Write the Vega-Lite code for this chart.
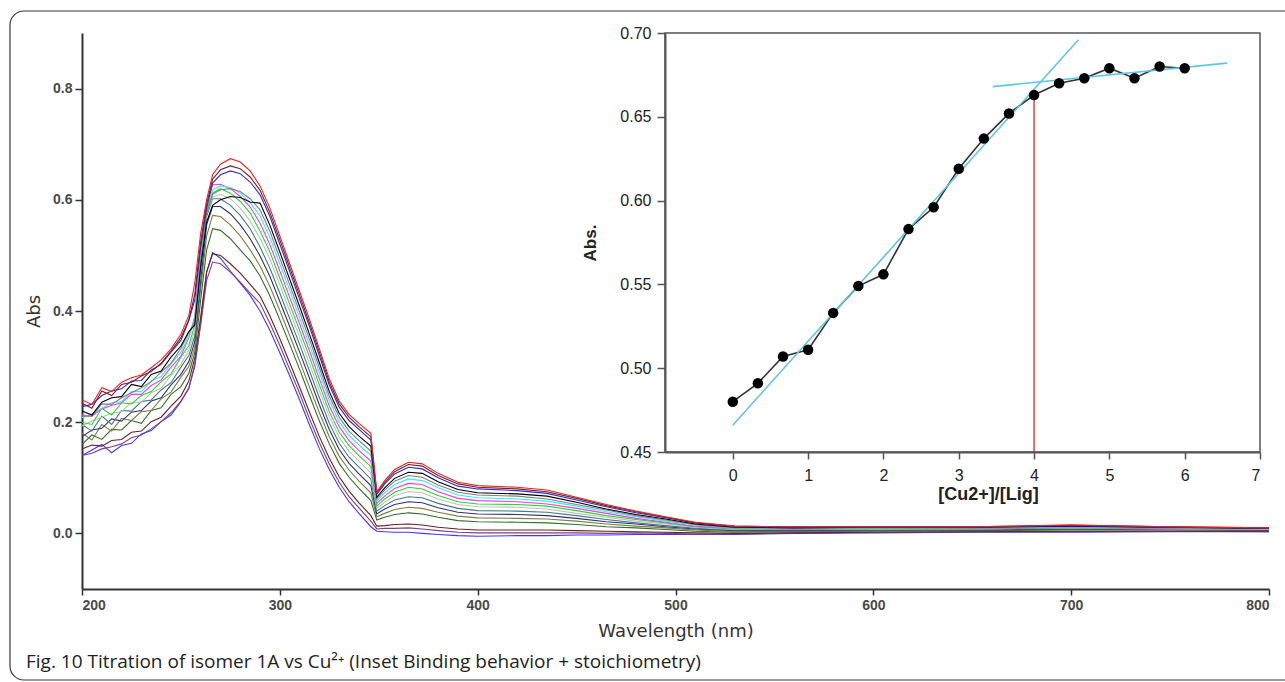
{
"$schema":"https://vega.github.io/schema/vega-lite/v6.json",
"width":1187,"height":556,
"autosize":"none",
"padding":{"left":82,"top":33,"right":16,"bottom":93},
"background":"white",
"config":{"view":{"stroke":null},"axis":{"grid":false}},
"title":{"text":"Fig. 10  Titration of isomer 1A vs Cu²⁺ (Inset Binding behavior + stoichiometry)","orient":"bottom","anchor":"start","frame":"group","dx":-56,"offset":-13,"baseline":"alphabetic","font":"Open Sans","fontSize":19,"fontWeight":"normal","color":"#231f20"},
"datasets":{
"spectra":[
{"s":0,"w":200,"a":0.140},{"s":0,"w":205,"a":0.150},{"s":0,"w":210,"a":0.160},{"s":0,"w":215,"a":0.145},{"s":0,"w":220,"a":0.158},{"s":0,"w":225,"a":0.162},{"s":0,"w":230,"a":0.179},{"s":0,"w":235,"a":0.185},{"s":0,"w":240,"a":0.201},{"s":0,"w":245,"a":0.213},{"s":0,"w":250,"a":0.237},{"s":0,"w":254,"a":0.262},{"s":0,"w":257,"a":0.300},{"s":0,"w":260,"a":0.380},{"s":0,"w":263,"a":0.470},{"s":0,"w":266,"a":0.505},{"s":0,"w":270,"a":0.495},{"s":0,"w":275,"a":0.472},{"s":0,"w":280,"a":0.450},{"s":0,"w":285,"a":0.428},{"s":0,"w":290,"a":0.400},{"s":0,"w":295,"a":0.365},{"s":0,"w":300,"a":0.325},{"s":0,"w":305,"a":0.283},{"s":0,"w":310,"a":0.240},{"s":0,"w":315,"a":0.195},{"s":0,"w":320,"a":0.152},{"s":0,"w":325,"a":0.115},{"s":0,"w":330,"a":0.083},{"s":0,"w":335,"a":0.057},{"s":0,"w":340,"a":0.036},{"s":0,"w":346,"a":0.012},{"s":0,"w":349,"a":0.004},{"s":0,"w":353,"a":0.003},{"s":0,"w":358,"a":0.002},{"s":0,"w":365,"a":0.002},{"s":0,"w":372,"a":0.000},{"s":0,"w":380,"a":-0.002},{"s":0,"w":390,"a":-0.004},{"s":0,"w":400,"a":-0.005},{"s":0,"w":420,"a":-0.004},{"s":0,"w":435,"a":-0.004},{"s":0,"w":450,"a":-0.003},{"s":0,"w":465,"a":-0.003},{"s":0,"w":480,"a":-0.002},{"s":0,"w":495,"a":-0.002},{"s":0,"w":510,"a":-0.002},{"s":0,"w":530,"a":-0.002},{"s":0,"w":560,"a":0.000},{"s":0,"w":600,"a":0.001},{"s":0,"w":650,"a":0.002},{"s":0,"w":700,"a":0.002},{"s":0,"w":750,"a":0.003},{"s":0,"w":800,"a":0.003},
{"s":1,"w":200,"a":0.140},{"s":1,"w":205,"a":0.144},{"s":1,"w":210,"a":0.152},{"s":1,"w":215,"a":0.156},{"s":1,"w":220,"a":0.161},{"s":1,"w":225,"a":0.172},{"s":1,"w":230,"a":0.177},{"s":1,"w":235,"a":0.188},{"s":1,"w":240,"a":0.201},{"s":1,"w":245,"a":0.217},{"s":1,"w":250,"a":0.238},{"s":1,"w":254,"a":0.260},{"s":1,"w":257,"a":0.305},{"s":1,"w":260,"a":0.375},{"s":1,"w":263,"a":0.455},{"s":1,"w":266,"a":0.488},{"s":1,"w":270,"a":0.485},{"s":1,"w":275,"a":0.470},{"s":1,"w":280,"a":0.452},{"s":1,"w":285,"a":0.432},{"s":1,"w":290,"a":0.414},{"s":1,"w":295,"a":0.378},{"s":1,"w":300,"a":0.338},{"s":1,"w":305,"a":0.295},{"s":1,"w":310,"a":0.252},{"s":1,"w":315,"a":0.206},{"s":1,"w":320,"a":0.163},{"s":1,"w":325,"a":0.125},{"s":1,"w":330,"a":0.092},{"s":1,"w":335,"a":0.066},{"s":1,"w":340,"a":0.046},{"s":1,"w":346,"a":0.022},{"s":1,"w":349,"a":0.008},{"s":1,"w":353,"a":0.009},{"s":1,"w":358,"a":0.009},{"s":1,"w":365,"a":0.010},{"s":1,"w":372,"a":0.008},{"s":1,"w":380,"a":0.005},{"s":1,"w":390,"a":0.002},{"s":1,"w":400,"a":0.001},{"s":1,"w":420,"a":0.001},{"s":1,"w":435,"a":0.001},{"s":1,"w":450,"a":0.001},{"s":1,"w":465,"a":0.000},{"s":1,"w":480,"a":0.001},{"s":1,"w":495,"a":0.000},{"s":1,"w":510,"a":-0.001},{"s":1,"w":530,"a":-0.001},{"s":1,"w":560,"a":0.001},{"s":1,"w":600,"a":0.002},{"s":1,"w":650,"a":0.003},{"s":1,"w":700,"a":0.003},{"s":1,"w":750,"a":0.004},{"s":1,"w":800,"a":0.003},
{"s":2,"w":200,"a":0.152},{"s":2,"w":205,"a":0.159},{"s":2,"w":210,"a":0.157},{"s":2,"w":215,"a":0.167},{"s":2,"w":220,"a":0.169},{"s":2,"w":225,"a":0.182},{"s":2,"w":230,"a":0.184},{"s":2,"w":235,"a":0.201},{"s":2,"w":240,"a":0.209},{"s":2,"w":245,"a":0.229},{"s":2,"w":250,"a":0.247},{"s":2,"w":254,"a":0.274},{"s":2,"w":257,"a":0.315},{"s":2,"w":260,"a":0.390},{"s":2,"w":263,"a":0.470},{"s":2,"w":266,"a":0.503},{"s":2,"w":270,"a":0.500},{"s":2,"w":275,"a":0.485},{"s":2,"w":280,"a":0.468},{"s":2,"w":285,"a":0.448},{"s":2,"w":290,"a":0.427},{"s":2,"w":295,"a":0.391},{"s":2,"w":300,"a":0.350},{"s":2,"w":305,"a":0.307},{"s":2,"w":310,"a":0.263},{"s":2,"w":315,"a":0.218},{"s":2,"w":320,"a":0.174},{"s":2,"w":325,"a":0.135},{"s":2,"w":330,"a":0.102},{"s":2,"w":335,"a":0.076},{"s":2,"w":340,"a":0.055},{"s":2,"w":346,"a":0.032},{"s":2,"w":349,"a":0.013},{"s":2,"w":353,"a":0.014},{"s":2,"w":358,"a":0.016},{"s":2,"w":365,"a":0.017},{"s":2,"w":372,"a":0.015},{"s":2,"w":380,"a":0.011},{"s":2,"w":390,"a":0.008},{"s":2,"w":400,"a":0.006},{"s":2,"w":420,"a":0.006},{"s":2,"w":435,"a":0.006},{"s":2,"w":450,"a":0.005},{"s":2,"w":465,"a":0.004},{"s":2,"w":480,"a":0.003},{"s":2,"w":495,"a":0.002},{"s":2,"w":510,"a":0.001},{"s":2,"w":530,"a":0.000},{"s":2,"w":560,"a":0.001},{"s":2,"w":600,"a":0.002},{"s":2,"w":650,"a":0.003},{"s":2,"w":700,"a":0.004},{"s":2,"w":750,"a":0.004},{"s":2,"w":800,"a":0.004},
{"s":3,"w":200,"a":0.160},{"s":3,"w":205,"a":0.177},{"s":3,"w":210,"a":0.169},{"s":3,"w":215,"a":0.187},{"s":3,"w":220,"a":0.186},{"s":3,"w":225,"a":0.203},{"s":3,"w":230,"a":0.198},{"s":3,"w":235,"a":0.221},{"s":3,"w":240,"a":0.226},{"s":3,"w":245,"a":0.250},{"s":3,"w":250,"a":0.264},{"s":3,"w":254,"a":0.288},{"s":3,"w":257,"a":0.325},{"s":3,"w":260,"a":0.420},{"s":3,"w":263,"a":0.510},{"s":3,"w":266,"a":0.548},{"s":3,"w":270,"a":0.545},{"s":3,"w":275,"a":0.530},{"s":3,"w":280,"a":0.510},{"s":3,"w":285,"a":0.490},{"s":3,"w":290,"a":0.463},{"s":3,"w":295,"a":0.427},{"s":3,"w":300,"a":0.384},{"s":3,"w":305,"a":0.340},{"s":3,"w":310,"a":0.295},{"s":3,"w":315,"a":0.248},{"s":3,"w":320,"a":0.202},{"s":3,"w":325,"a":0.161},{"s":3,"w":330,"a":0.126},{"s":3,"w":335,"a":0.101},{"s":3,"w":340,"a":0.081},{"s":3,"w":346,"a":0.059},{"s":3,"w":349,"a":0.024},{"s":3,"w":353,"a":0.029},{"s":3,"w":358,"a":0.034},{"s":3,"w":365,"a":0.037},{"s":3,"w":372,"a":0.035},{"s":3,"w":380,"a":0.029},{"s":3,"w":390,"a":0.023},{"s":3,"w":400,"a":0.021},{"s":3,"w":420,"a":0.020},{"s":3,"w":435,"a":0.019},{"s":3,"w":450,"a":0.016},{"s":3,"w":465,"a":0.012},{"s":3,"w":480,"a":0.010},{"s":3,"w":495,"a":0.007},{"s":3,"w":510,"a":0.004},{"s":3,"w":530,"a":0.002},{"s":3,"w":560,"a":0.003},{"s":3,"w":600,"a":0.004},{"s":3,"w":650,"a":0.005},{"s":3,"w":700,"a":0.006},{"s":3,"w":750,"a":0.006},{"s":3,"w":800,"a":0.005},
{"s":4,"w":200,"a":0.180},{"s":4,"w":205,"a":0.168},{"s":4,"w":210,"a":0.196},{"s":4,"w":215,"a":0.184},{"s":4,"w":220,"a":0.207},{"s":4,"w":225,"a":0.203},{"s":4,"w":230,"a":0.219},{"s":4,"w":235,"a":0.221},{"s":4,"w":240,"a":0.242},{"s":4,"w":245,"a":0.254},{"s":4,"w":250,"a":0.281},{"s":4,"w":254,"a":0.300},{"s":4,"w":257,"a":0.335},{"s":4,"w":260,"a":0.440},{"s":4,"w":263,"a":0.535},{"s":4,"w":266,"a":0.572},{"s":4,"w":270,"a":0.570},{"s":4,"w":275,"a":0.555},{"s":4,"w":280,"a":0.535},{"s":4,"w":285,"a":0.510},{"s":4,"w":290,"a":0.481},{"s":4,"w":295,"a":0.444},{"s":4,"w":300,"a":0.401},{"s":4,"w":305,"a":0.356},{"s":4,"w":310,"a":0.310},{"s":4,"w":315,"a":0.263},{"s":4,"w":320,"a":0.217},{"s":4,"w":325,"a":0.174},{"s":4,"w":330,"a":0.139},{"s":4,"w":335,"a":0.114},{"s":4,"w":340,"a":0.094},{"s":4,"w":346,"a":0.073},{"s":4,"w":349,"a":0.030},{"s":4,"w":353,"a":0.036},{"s":4,"w":358,"a":0.043},{"s":4,"w":365,"a":0.047},{"s":4,"w":372,"a":0.045},{"s":4,"w":380,"a":0.038},{"s":4,"w":390,"a":0.031},{"s":4,"w":400,"a":0.028},{"s":4,"w":420,"a":0.027},{"s":4,"w":435,"a":0.026},{"s":4,"w":450,"a":0.022},{"s":4,"w":465,"a":0.017},{"s":4,"w":480,"a":0.013},{"s":4,"w":495,"a":0.010},{"s":4,"w":510,"a":0.006},{"s":4,"w":530,"a":0.003},{"s":4,"w":560,"a":0.004},{"s":4,"w":600,"a":0.005},{"s":4,"w":650,"a":0.006},{"s":4,"w":700,"a":0.007},{"s":4,"w":750,"a":0.006},{"s":4,"w":800,"a":0.006},
{"s":5,"w":200,"a":0.174},{"s":5,"w":205,"a":0.186},{"s":5,"w":210,"a":0.189},{"s":5,"w":215,"a":0.206},{"s":5,"w":220,"a":0.202},{"s":5,"w":225,"a":0.218},{"s":5,"w":230,"a":0.221},{"s":5,"w":235,"a":0.238},{"s":5,"w":240,"a":0.244},{"s":5,"w":245,"a":0.267},{"s":5,"w":250,"a":0.286},{"s":5,"w":254,"a":0.309},{"s":5,"w":257,"a":0.345},{"s":5,"w":260,"a":0.455},{"s":5,"w":263,"a":0.555},{"s":5,"w":266,"a":0.588},{"s":5,"w":270,"a":0.588},{"s":5,"w":275,"a":0.575},{"s":5,"w":280,"a":0.555},{"s":5,"w":285,"a":0.530},{"s":5,"w":290,"a":0.499},{"s":5,"w":295,"a":0.462},{"s":5,"w":300,"a":0.417},{"s":5,"w":305,"a":0.372},{"s":5,"w":310,"a":0.326},{"s":5,"w":315,"a":0.279},{"s":5,"w":320,"a":0.231},{"s":5,"w":325,"a":0.187},{"s":5,"w":330,"a":0.151},{"s":5,"w":335,"a":0.126},{"s":5,"w":340,"a":0.107},{"s":5,"w":346,"a":0.086},{"s":5,"w":349,"a":0.035},{"s":5,"w":353,"a":0.044},{"s":5,"w":358,"a":0.052},{"s":5,"w":365,"a":0.057},{"s":5,"w":372,"a":0.055},{"s":5,"w":380,"a":0.046},{"s":5,"w":390,"a":0.038},{"s":5,"w":400,"a":0.035},{"s":5,"w":420,"a":0.034},{"s":5,"w":435,"a":0.032},{"s":5,"w":450,"a":0.027},{"s":5,"w":465,"a":0.021},{"s":5,"w":480,"a":0.017},{"s":5,"w":495,"a":0.012},{"s":5,"w":510,"a":0.008},{"s":5,"w":530,"a":0.005},{"s":5,"w":560,"a":0.005},{"s":5,"w":600,"a":0.006},{"s":5,"w":650,"a":0.006},{"s":5,"w":700,"a":0.008},{"s":5,"w":750,"a":0.007},{"s":5,"w":800,"a":0.006},
{"s":6,"w":200,"a":0.196},{"s":6,"w":205,"a":0.184},{"s":6,"w":210,"a":0.211},{"s":6,"w":215,"a":0.196},{"s":6,"w":220,"a":0.221},{"s":6,"w":225,"a":0.220},{"s":6,"w":230,"a":0.237},{"s":6,"w":235,"a":0.240},{"s":6,"w":240,"a":0.258},{"s":6,"w":245,"a":0.271},{"s":6,"w":250,"a":0.299},{"s":6,"w":254,"a":0.320},{"s":6,"w":257,"a":0.355},{"s":6,"w":260,"a":0.470},{"s":6,"w":263,"a":0.570},{"s":6,"w":266,"a":0.602},{"s":6,"w":270,"a":0.602},{"s":6,"w":275,"a":0.590},{"s":6,"w":280,"a":0.572},{"s":6,"w":285,"a":0.548},{"s":6,"w":290,"a":0.515},{"s":6,"w":295,"a":0.477},{"s":6,"w":300,"a":0.432},{"s":6,"w":305,"a":0.386},{"s":6,"w":310,"a":0.340},{"s":6,"w":315,"a":0.292},{"s":6,"w":320,"a":0.244},{"s":6,"w":325,"a":0.198},{"s":6,"w":330,"a":0.162},{"s":6,"w":335,"a":0.137},{"s":6,"w":340,"a":0.119},{"s":6,"w":346,"a":0.098},{"s":6,"w":349,"a":0.040},{"s":6,"w":353,"a":0.050},{"s":6,"w":358,"a":0.060},{"s":6,"w":365,"a":0.066},{"s":6,"w":372,"a":0.064},{"s":6,"w":380,"a":0.054},{"s":6,"w":390,"a":0.045},{"s":6,"w":400,"a":0.041},{"s":6,"w":420,"a":0.040},{"s":6,"w":435,"a":0.038},{"s":6,"w":450,"a":0.032},{"s":6,"w":465,"a":0.025},{"s":6,"w":480,"a":0.019},{"s":6,"w":495,"a":0.014},{"s":6,"w":510,"a":0.009},{"s":6,"w":530,"a":0.006},{"s":6,"w":560,"a":0.006},{"s":6,"w":600,"a":0.007},{"s":6,"w":650,"a":0.007},{"s":6,"w":700,"a":0.009},{"s":6,"w":750,"a":0.008},{"s":6,"w":800,"a":0.007},
{"s":7,"w":200,"a":0.193},{"s":7,"w":205,"a":0.202},{"s":7,"w":210,"a":0.209},{"s":7,"w":215,"a":0.216},{"s":7,"w":220,"a":0.219},{"s":7,"w":225,"a":0.236},{"s":7,"w":230,"a":0.236},{"s":7,"w":235,"a":0.253},{"s":7,"w":240,"a":0.261},{"s":7,"w":245,"a":0.284},{"s":7,"w":250,"a":0.304},{"s":7,"w":254,"a":0.330},{"s":7,"w":257,"a":0.365},{"s":7,"w":260,"a":0.480},{"s":7,"w":263,"a":0.575},{"s":7,"w":266,"a":0.605},{"s":7,"w":270,"a":0.610},{"s":7,"w":275,"a":0.602},{"s":7,"w":280,"a":0.585},{"s":7,"w":285,"a":0.562},{"s":7,"w":290,"a":0.531},{"s":7,"w":295,"a":0.493},{"s":7,"w":300,"a":0.447},{"s":7,"w":305,"a":0.400},{"s":7,"w":310,"a":0.353},{"s":7,"w":315,"a":0.305},{"s":7,"w":320,"a":0.256},{"s":7,"w":325,"a":0.210},{"s":7,"w":330,"a":0.173},{"s":7,"w":335,"a":0.148},{"s":7,"w":340,"a":0.130},{"s":7,"w":346,"a":0.109},{"s":7,"w":349,"a":0.045},{"s":7,"w":353,"a":0.056},{"s":7,"w":358,"a":0.068},{"s":7,"w":365,"a":0.075},{"s":7,"w":372,"a":0.073},{"s":7,"w":380,"a":0.062},{"s":7,"w":390,"a":0.052},{"s":7,"w":400,"a":0.048},{"s":7,"w":420,"a":0.047},{"s":7,"w":435,"a":0.044},{"s":7,"w":450,"a":0.036},{"s":7,"w":465,"a":0.029},{"s":7,"w":480,"a":0.022},{"s":7,"w":495,"a":0.017},{"s":7,"w":510,"a":0.011},{"s":7,"w":530,"a":0.007},{"s":7,"w":560,"a":0.007},{"s":7,"w":600,"a":0.007},{"s":7,"w":650,"a":0.008},{"s":7,"w":700,"a":0.010},{"s":7,"w":750,"a":0.008},{"s":7,"w":800,"a":0.007},
{"s":8,"w":200,"a":0.200},{"s":8,"w":205,"a":0.196},{"s":8,"w":210,"a":0.225},{"s":8,"w":215,"a":0.213},{"s":8,"w":220,"a":0.235},{"s":8,"w":225,"a":0.233},{"s":8,"w":230,"a":0.248},{"s":8,"w":235,"a":0.255},{"s":8,"w":240,"a":0.273},{"s":8,"w":245,"a":0.287},{"s":8,"w":250,"a":0.317},{"s":8,"w":254,"a":0.338},{"s":8,"w":257,"a":0.375},{"s":8,"w":260,"a":0.490},{"s":8,"w":263,"a":0.580},{"s":8,"w":266,"a":0.612},{"s":8,"w":270,"a":0.620},{"s":8,"w":275,"a":0.612},{"s":8,"w":280,"a":0.597},{"s":8,"w":285,"a":0.576},{"s":8,"w":290,"a":0.544},{"s":8,"w":295,"a":0.506},{"s":8,"w":300,"a":0.459},{"s":8,"w":305,"a":0.412},{"s":8,"w":310,"a":0.365},{"s":8,"w":315,"a":0.317},{"s":8,"w":320,"a":0.267},{"s":8,"w":325,"a":0.219},{"s":8,"w":330,"a":0.182},{"s":8,"w":335,"a":0.158},{"s":8,"w":340,"a":0.140},{"s":8,"w":346,"a":0.120},{"s":8,"w":349,"a":0.049},{"s":8,"w":353,"a":0.062},{"s":8,"w":358,"a":0.074},{"s":8,"w":365,"a":0.083},{"s":8,"w":372,"a":0.080},{"s":8,"w":380,"a":0.068},{"s":8,"w":390,"a":0.057},{"s":8,"w":400,"a":0.053},{"s":8,"w":420,"a":0.052},{"s":8,"w":435,"a":0.049},{"s":8,"w":450,"a":0.041},{"s":8,"w":465,"a":0.032},{"s":8,"w":480,"a":0.025},{"s":8,"w":495,"a":0.019},{"s":8,"w":510,"a":0.012},{"s":8,"w":530,"a":0.008},{"s":8,"w":560,"a":0.008},{"s":8,"w":600,"a":0.008},{"s":8,"w":650,"a":0.008},{"s":8,"w":700,"a":0.010},{"s":8,"w":750,"a":0.009},{"s":8,"w":800,"a":0.008},
{"s":9,"w":200,"a":0.213},{"s":9,"w":205,"a":0.211},{"s":9,"w":210,"a":0.224},{"s":9,"w":215,"a":0.230},{"s":9,"w":220,"a":0.235},{"s":9,"w":225,"a":0.250},{"s":9,"w":230,"a":0.250},{"s":9,"w":235,"a":0.266},{"s":9,"w":240,"a":0.276},{"s":9,"w":245,"a":0.299},{"s":9,"w":250,"a":0.319},{"s":9,"w":254,"a":0.352},{"s":9,"w":257,"a":0.390},{"s":9,"w":260,"a":0.510},{"s":9,"w":263,"a":0.595},{"s":9,"w":266,"a":0.627},{"s":9,"w":270,"a":0.628},{"s":9,"w":275,"a":0.620},{"s":9,"w":280,"a":0.606},{"s":9,"w":285,"a":0.587},{"s":9,"w":290,"a":0.558},{"s":9,"w":295,"a":0.519},{"s":9,"w":300,"a":0.472},{"s":9,"w":305,"a":0.424},{"s":9,"w":310,"a":0.377},{"s":9,"w":315,"a":0.328},{"s":9,"w":320,"a":0.278},{"s":9,"w":325,"a":0.229},{"s":9,"w":330,"a":0.192},{"s":9,"w":335,"a":0.167},{"s":9,"w":340,"a":0.149},{"s":9,"w":346,"a":0.130},{"s":9,"w":349,"a":0.054},{"s":9,"w":353,"a":0.067},{"s":9,"w":358,"a":0.081},{"s":9,"w":365,"a":0.090},{"s":9,"w":372,"a":0.088},{"s":9,"w":380,"a":0.075},{"s":9,"w":390,"a":0.063},{"s":9,"w":400,"a":0.059},{"s":9,"w":420,"a":0.057},{"s":9,"w":435,"a":0.053},{"s":9,"w":450,"a":0.045},{"s":9,"w":465,"a":0.036},{"s":9,"w":480,"a":0.027},{"s":9,"w":495,"a":0.020},{"s":9,"w":510,"a":0.013},{"s":9,"w":530,"a":0.009},{"s":9,"w":560,"a":0.008},{"s":9,"w":600,"a":0.009},{"s":9,"w":650,"a":0.009},{"s":9,"w":700,"a":0.011},{"s":9,"w":750,"a":0.009},{"s":9,"w":800,"a":0.008},
{"s":10,"w":200,"a":0.208},{"s":10,"w":205,"a":0.215},{"s":10,"w":210,"a":0.225},{"s":10,"w":215,"a":0.235},{"s":10,"w":220,"a":0.237},{"s":10,"w":225,"a":0.255},{"s":10,"w":230,"a":0.255},{"s":10,"w":235,"a":0.274},{"s":10,"w":240,"a":0.282},{"s":10,"w":245,"a":0.305},{"s":10,"w":250,"a":0.326},{"s":10,"w":254,"a":0.355},{"s":10,"w":257,"a":0.385},{"s":10,"w":260,"a":0.500},{"s":10,"w":263,"a":0.585},{"s":10,"w":266,"a":0.618},{"s":10,"w":270,"a":0.625},{"s":10,"w":275,"a":0.622},{"s":10,"w":280,"a":0.612},{"s":10,"w":285,"a":0.595},{"s":10,"w":290,"a":0.571},{"s":10,"w":295,"a":0.532},{"s":10,"w":300,"a":0.485},{"s":10,"w":305,"a":0.437},{"s":10,"w":310,"a":0.388},{"s":10,"w":315,"a":0.339},{"s":10,"w":320,"a":0.289},{"s":10,"w":325,"a":0.239},{"s":10,"w":330,"a":0.201},{"s":10,"w":335,"a":0.176},{"s":10,"w":340,"a":0.159},{"s":10,"w":346,"a":0.140},{"s":10,"w":349,"a":0.058},{"s":10,"w":353,"a":0.073},{"s":10,"w":358,"a":0.088},{"s":10,"w":365,"a":0.098},{"s":10,"w":372,"a":0.095},{"s":10,"w":380,"a":0.082},{"s":10,"w":390,"a":0.069},{"s":10,"w":400,"a":0.064},{"s":10,"w":420,"a":0.062},{"s":10,"w":435,"a":0.058},{"s":10,"w":450,"a":0.049},{"s":10,"w":465,"a":0.039},{"s":10,"w":480,"a":0.030},{"s":10,"w":495,"a":0.022},{"s":10,"w":510,"a":0.015},{"s":10,"w":530,"a":0.009},{"s":10,"w":560,"a":0.009},{"s":10,"w":600,"a":0.009},{"s":10,"w":650,"a":0.010},{"s":10,"w":700,"a":0.012},{"s":10,"w":750,"a":0.010},{"s":10,"w":800,"a":0.008},
{"s":11,"w":200,"a":0.211},{"s":11,"w":205,"a":0.211},{"s":11,"w":210,"a":0.233},{"s":11,"w":215,"a":0.232},{"s":11,"w":220,"a":0.244},{"s":11,"w":225,"a":0.253},{"s":11,"w":230,"a":0.262},{"s":11,"w":235,"a":0.273},{"s":11,"w":240,"a":0.290},{"s":11,"w":245,"a":0.306},{"s":11,"w":250,"a":0.333},{"s":11,"w":254,"a":0.361},{"s":11,"w":257,"a":0.380},{"s":11,"w":260,"a":0.490},{"s":11,"w":263,"a":0.575},{"s":11,"w":266,"a":0.610},{"s":11,"w":270,"a":0.618},{"s":11,"w":275,"a":0.620},{"s":11,"w":280,"a":0.615},{"s":11,"w":285,"a":0.602},{"s":11,"w":290,"a":0.582},{"s":11,"w":295,"a":0.543},{"s":11,"w":300,"a":0.495},{"s":11,"w":305,"a":0.447},{"s":11,"w":310,"a":0.398},{"s":11,"w":315,"a":0.349},{"s":11,"w":320,"a":0.298},{"s":11,"w":325,"a":0.247},{"s":11,"w":330,"a":0.209},{"s":11,"w":335,"a":0.184},{"s":11,"w":340,"a":0.167},{"s":11,"w":346,"a":0.148},{"s":11,"w":349,"a":0.062},{"s":11,"w":353,"a":0.078},{"s":11,"w":358,"a":0.094},{"s":11,"w":365,"a":0.104},{"s":11,"w":372,"a":0.101},{"s":11,"w":380,"a":0.087},{"s":11,"w":390,"a":0.074},{"s":11,"w":400,"a":0.069},{"s":11,"w":420,"a":0.067},{"s":11,"w":435,"a":0.062},{"s":11,"w":450,"a":0.052},{"s":11,"w":465,"a":0.042},{"s":11,"w":480,"a":0.032},{"s":11,"w":495,"a":0.024},{"s":11,"w":510,"a":0.016},{"s":11,"w":530,"a":0.010},{"s":11,"w":560,"a":0.010},{"s":11,"w":600,"a":0.010},{"s":11,"w":650,"a":0.010},{"s":11,"w":700,"a":0.013},{"s":11,"w":750,"a":0.010},{"s":11,"w":800,"a":0.009},
{"s":12,"w":200,"a":0.220},{"s":12,"w":205,"a":0.213},{"s":12,"w":210,"a":0.236},{"s":12,"w":215,"a":0.244},{"s":12,"w":220,"a":0.246},{"s":12,"w":225,"a":0.268},{"s":12,"w":230,"a":0.264},{"s":12,"w":235,"a":0.286},{"s":12,"w":240,"a":0.292},{"s":12,"w":245,"a":0.317},{"s":12,"w":250,"a":0.337},{"s":12,"w":254,"a":0.363},{"s":12,"w":257,"a":0.375},{"s":12,"w":260,"a":0.480},{"s":12,"w":263,"a":0.560},{"s":12,"w":266,"a":0.590},{"s":12,"w":270,"a":0.600},{"s":12,"w":275,"a":0.606},{"s":12,"w":280,"a":0.604},{"s":12,"w":285,"a":0.596},{"s":12,"w":290,"a":0.594},{"s":12,"w":295,"a":0.554},{"s":12,"w":300,"a":0.506},{"s":12,"w":305,"a":0.457},{"s":12,"w":310,"a":0.408},{"s":12,"w":315,"a":0.358},{"s":12,"w":320,"a":0.307},{"s":12,"w":325,"a":0.255},{"s":12,"w":330,"a":0.216},{"s":12,"w":335,"a":0.192},{"s":12,"w":340,"a":0.175},{"s":12,"w":346,"a":0.157},{"s":12,"w":349,"a":0.065},{"s":12,"w":353,"a":0.082},{"s":12,"w":358,"a":0.099},{"s":12,"w":365,"a":0.110},{"s":12,"w":372,"a":0.108},{"s":12,"w":380,"a":0.093},{"s":12,"w":390,"a":0.079},{"s":12,"w":400,"a":0.073},{"s":12,"w":420,"a":0.071},{"s":12,"w":435,"a":0.067},{"s":12,"w":450,"a":0.056},{"s":12,"w":465,"a":0.044},{"s":12,"w":480,"a":0.034},{"s":12,"w":495,"a":0.026},{"s":12,"w":510,"a":0.017},{"s":12,"w":530,"a":0.011},{"s":12,"w":560,"a":0.010},{"s":12,"w":600,"a":0.011},{"s":12,"w":650,"a":0.011},{"s":12,"w":700,"a":0.013},{"s":12,"w":750,"a":0.011},{"s":12,"w":800,"a":0.009},
{"s":13,"w":200,"a":0.228},{"s":13,"w":205,"a":0.232},{"s":13,"w":210,"a":0.248},{"s":13,"w":215,"a":0.256},{"s":13,"w":220,"a":0.260},{"s":13,"w":225,"a":0.274},{"s":13,"w":230,"a":0.275},{"s":13,"w":235,"a":0.294},{"s":13,"w":240,"a":0.304},{"s":13,"w":245,"a":0.326},{"s":13,"w":250,"a":0.347},{"s":13,"w":254,"a":0.383},{"s":13,"w":257,"a":0.420},{"s":13,"w":260,"a":0.515},{"s":13,"w":263,"a":0.585},{"s":13,"w":266,"a":0.630},{"s":13,"w":270,"a":0.645},{"s":13,"w":275,"a":0.652},{"s":13,"w":280,"a":0.647},{"s":13,"w":285,"a":0.632},{"s":13,"w":290,"a":0.609},{"s":13,"w":295,"a":0.570},{"s":13,"w":300,"a":0.520},{"s":13,"w":305,"a":0.471},{"s":13,"w":310,"a":0.421},{"s":13,"w":315,"a":0.372},{"s":13,"w":320,"a":0.319},{"s":13,"w":325,"a":0.267},{"s":13,"w":330,"a":0.227},{"s":13,"w":335,"a":0.203},{"s":13,"w":340,"a":0.187},{"s":13,"w":346,"a":0.168},{"s":13,"w":349,"a":0.070},{"s":13,"w":353,"a":0.089},{"s":13,"w":358,"a":0.107},{"s":13,"w":365,"a":0.119},{"s":13,"w":372,"a":0.116},{"s":13,"w":380,"a":0.100},{"s":13,"w":390,"a":0.085},{"s":13,"w":400,"a":0.080},{"s":13,"w":420,"a":0.077},{"s":13,"w":435,"a":0.072},{"s":13,"w":450,"a":0.060},{"s":13,"w":465,"a":0.048},{"s":13,"w":480,"a":0.037},{"s":13,"w":495,"a":0.028},{"s":13,"w":510,"a":0.019},{"s":13,"w":530,"a":0.012},{"s":13,"w":560,"a":0.011},{"s":13,"w":600,"a":0.011},{"s":13,"w":650,"a":0.011},{"s":13,"w":700,"a":0.014},{"s":13,"w":750,"a":0.011},{"s":13,"w":800,"a":0.010},
{"s":14,"w":200,"a":0.234},{"s":14,"w":205,"a":0.225},{"s":14,"w":210,"a":0.256},{"s":14,"w":215,"a":0.248},{"s":14,"w":220,"a":0.268},{"s":14,"w":225,"a":0.272},{"s":14,"w":230,"a":0.283},{"s":14,"w":235,"a":0.291},{"s":14,"w":240,"a":0.306},{"s":14,"w":245,"a":0.328},{"s":14,"w":250,"a":0.352},{"s":14,"w":254,"a":0.384},{"s":14,"w":257,"a":0.430},{"s":14,"w":260,"a":0.525},{"s":14,"w":263,"a":0.592},{"s":14,"w":266,"a":0.637},{"s":14,"w":270,"a":0.654},{"s":14,"w":275,"a":0.661},{"s":14,"w":280,"a":0.656},{"s":14,"w":285,"a":0.641},{"s":14,"w":290,"a":0.617},{"s":14,"w":295,"a":0.577},{"s":14,"w":300,"a":0.528},{"s":14,"w":305,"a":0.478},{"s":14,"w":310,"a":0.428},{"s":14,"w":315,"a":0.378},{"s":14,"w":320,"a":0.326},{"s":14,"w":325,"a":0.272},{"s":14,"w":330,"a":0.233},{"s":14,"w":335,"a":0.209},{"s":14,"w":340,"a":0.192},{"s":14,"w":346,"a":0.174},{"s":14,"w":349,"a":0.073},{"s":14,"w":353,"a":0.092},{"s":14,"w":358,"a":0.111},{"s":14,"w":365,"a":0.124},{"s":14,"w":372,"a":0.121},{"s":14,"w":380,"a":0.104},{"s":14,"w":390,"a":0.089},{"s":14,"w":400,"a":0.083},{"s":14,"w":420,"a":0.080},{"s":14,"w":435,"a":0.075},{"s":14,"w":450,"a":0.063},{"s":14,"w":465,"a":0.050},{"s":14,"w":480,"a":0.039},{"s":14,"w":495,"a":0.029},{"s":14,"w":510,"a":0.019},{"s":14,"w":530,"a":0.013},{"s":14,"w":560,"a":0.012},{"s":14,"w":600,"a":0.012},{"s":14,"w":650,"a":0.012},{"s":14,"w":700,"a":0.015},{"s":14,"w":750,"a":0.012},{"s":14,"w":800,"a":0.010},
{"s":15,"w":200,"a":0.240},{"s":15,"w":205,"a":0.232},{"s":15,"w":210,"a":0.262},{"s":15,"w":215,"a":0.255},{"s":15,"w":220,"a":0.272},{"s":15,"w":225,"a":0.280},{"s":15,"w":230,"a":0.285},{"s":15,"w":235,"a":0.298},{"s":15,"w":240,"a":0.312},{"s":15,"w":245,"a":0.332},{"s":15,"w":250,"a":0.358},{"s":15,"w":254,"a":0.392},{"s":15,"w":257,"a":0.450},{"s":15,"w":260,"a":0.540},{"s":15,"w":263,"a":0.600},{"s":15,"w":266,"a":0.645},{"s":15,"w":270,"a":0.664},{"s":15,"w":275,"a":0.674},{"s":15,"w":280,"a":0.668},{"s":15,"w":285,"a":0.652},{"s":15,"w":290,"a":0.625},{"s":15,"w":295,"a":0.585},{"s":15,"w":300,"a":0.535},{"s":15,"w":305,"a":0.485},{"s":15,"w":310,"a":0.435},{"s":15,"w":315,"a":0.385},{"s":15,"w":320,"a":0.332},{"s":15,"w":325,"a":0.278},{"s":15,"w":330,"a":0.238},{"s":15,"w":335,"a":0.214},{"s":15,"w":340,"a":0.198},{"s":15,"w":346,"a":0.180},{"s":15,"w":349,"a":0.075},{"s":15,"w":353,"a":0.095},{"s":15,"w":358,"a":0.115},{"s":15,"w":365,"a":0.128},{"s":15,"w":372,"a":0.125},{"s":15,"w":380,"a":0.108},{"s":15,"w":390,"a":0.092},{"s":15,"w":400,"a":0.086},{"s":15,"w":420,"a":0.083},{"s":15,"w":435,"a":0.078},{"s":15,"w":450,"a":0.065},{"s":15,"w":465,"a":0.052},{"s":15,"w":480,"a":0.040},{"s":15,"w":495,"a":0.030},{"s":15,"w":510,"a":0.020},{"s":15,"w":530,"a":0.013},{"s":15,"w":560,"a":0.012},{"s":15,"w":600,"a":0.012},{"s":15,"w":650,"a":0.012},{"s":15,"w":700,"a":0.015},{"s":15,"w":750,"a":0.012},{"s":15,"w":800,"a":0.010}
],
"ratio":[{"r":0,"a":0.480},{"r":0.333,"a":0.491},{"r":0.667,"a":0.507},{"r":1,"a":0.511},{"r":1.333,"a":0.533},{"r":1.667,"a":0.549},{"r":2,"a":0.556},{"r":2.333,"a":0.583},{"r":2.667,"a":0.596},{"r":3,"a":0.619},{"r":3.333,"a":0.637},{"r":3.667,"a":0.652},{"r":4,"a":0.663},{"r":4.333,"a":0.670},{"r":4.667,"a":0.673},{"r":5,"a":0.679},{"r":5.333,"a":0.673},{"r":5.667,"a":0.680},{"r":6,"a":0.679}],
"fits":[{"g":1,"r":0,"a":0.466},{"g":1,"r":4.59,"a":0.696},{"g":2,"r":3.45,"a":0.668},{"g":2,"r":6.56,"a":0.682}],
"redline":[{"r":4,"lo":0.45,"hi":0.663}]
},
"layer":[
{"layer":[
{"data":{"name":"spectra"},"mark":{"type":"line","strokeWidth":1.1},
"encoding":{
"x":{"field":"w","type":"quantitative","scale":{"domain":[200,800],"nice":false,"zero":false},
"axis":{"orient":"bottom","values":[200,300,400,500,600,700,800],"format":"d","tickSize":6,"tickColor":"#333","tickWidth":1.5,"domainColor":"#333","domainWidth":2,"labelFont":"Liberation Sans","labelFontSize":14,"labelFontWeight":"bold","labelColor":"#4a4a4a","labelPadding":3,"title":"Wavelength (nm)","titleFont":"DejaVu Sans","titleFontSize":18,"titleFontWeight":"normal","titleColor":"#333","titlePadding":10}},
"y":{"field":"a","type":"quantitative","scale":{"domain":[-0.1,0.9],"nice":false,"zero":false},
"axis":{"orient":"left","values":[0,0.2,0.4,0.6,0.8],"format":".1f","tickSize":7,"tickColor":"#333","tickWidth":1.5,"domainColor":"#333","domainWidth":2,"labelFont":"Liberation Sans","labelFontSize":14,"labelFontWeight":"bold","labelColor":"#4a4a4a","labelPadding":3,"title":"Abs","titleFont":"DejaVu Sans","titleFontSize":18,"titleFontWeight":"normal","titleColor":"#333","titlePadding":9}},
"color":{"field":"s","type":"nominal","legend":null,"scale":{"domain":[0,1,2,3,4,5,6,7,8,9,10,11,12,13,14,15],"range":["#3b3bff","#7f3f8f","#6f1f1f","#2f6f2f","#7f7f3f","#2f2f7f","#3f7f7f","#bfbfbf","#22dd22","#ff33ff","#33eeee","#7f7f7f","#000000","#2b2bdd","#7a1f1f","#ee2222"]}}
}},
{"data":{"values":[{}]},"mark":{"type":"rect","fillOpacity":0,"stroke":"#3a3a3a","strokeWidth":1.2,"cornerRadius":14},
"encoding":{"x":{"datum":163.6},"x2":{"datum":815},"y":{"datum":0.9396},"y2":{"datum":-0.2637}}}
]},
{"layer":[
{"data":{"name":"ratio"},"mark":{"type":"line","color":"#333","strokeWidth":1.6},
"encoding":{
"x":{"field":"r","type":"quantitative","scale":{"domain":[-0.9,7],"range":[583,1178],"nice":false,"zero":false},
"axis":{"orient":"bottom","offset":-137,"values":[0,1,2,3,4,5,6,7],"format":"d","tickSize":7,"tickColor":"#555","tickWidth":1.5,"domainColor":"#555","domainWidth":2,"labelFont":"Liberation Sans","labelFontSize":16,"labelColor":"#222","labelPadding":8,"title":"[Cu2+]/[Lig]","titleFont":"Liberation Sans","titleFontSize":18,"titleFontWeight":"bold","titleColor":"#222","titlePadding":2,"titleX":906}},
"y":{"field":"a","type":"quantitative","scale":{"domain":[0.45,0.7],"range":[419,0],"nice":false,"zero":false},
"axis":{"orient":"left","offset":-583,"values":[0.45,0.5,0.55,0.6,0.65,0.7],"format":".2f","tickSize":8,"tickColor":"#555","tickWidth":1.5,"domainColor":"#555","domainWidth":2,"labelFont":"Liberation Sans","labelFontSize":16,"labelColor":"#222","labelPadding":6,"title":"Abs.","titleFont":"Liberation Sans","titleFontSize":17,"titleFontWeight":"bold","titleColor":"#222","titlePadding":20}}
}},
{"data":{"name":"fits"},"mark":{"type":"line","color":"#5cc6e6","strokeWidth":1.6},
"encoding":{"x":{"field":"r","type":"quantitative"},"y":{"field":"a","type":"quantitative"},"detail":{"field":"g","type":"nominal"}}},
{"data":{"name":"redline"},"mark":{"type":"rule","color":"#e8403a","strokeWidth":1.5},
"encoding":{"x":{"field":"r","type":"quantitative"},"y":{"field":"lo","type":"quantitative"},"y2":{"field":"hi"}}},
{"data":{"name":"ratio"},"mark":{"type":"circle","color":"#000","opacity":1,"size":110},
"encoding":{"x":{"field":"r","type":"quantitative"},"y":{"field":"a","type":"quantitative"}}},
{"data":{"values":[{}]},"mark":{"type":"rect","fillOpacity":0,"stroke":"#555","strokeWidth":1.5},
"encoding":{"x":{"datum":-0.9},"x2":{"datum":7},"y":{"datum":0.45},"y2":{"datum":0.7}}}
]}
],
"resolve":{"scale":{"x":"independent","y":"independent"},"axis":{"x":"independent","y":"independent"}}
}
